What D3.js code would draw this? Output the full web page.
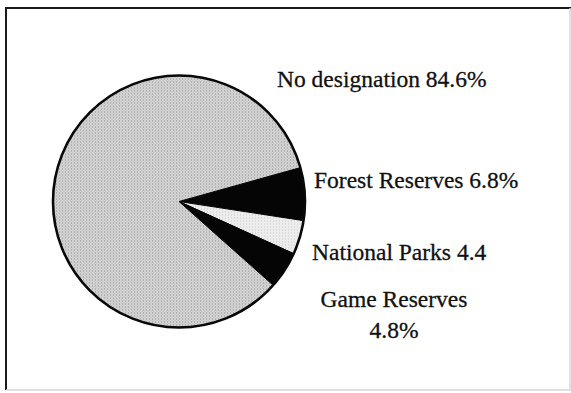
<!DOCTYPE html>
<html>
<head>
<meta charset="utf-8">
<script src="https://cdn.jsdelivr.net/npm/d3@7"></script>
<style>
  html, body { margin: 0; padding: 0; background: #fff; }
  svg { display: block; }
</style>
</head>
<body>
<svg id="chart" width="571" height="393"></svg>
<script>
// Land designation shares (%), in drawing order going clockwise from the right
const categories = ['Forest Reserves', 'National Parks', 'Game Reserves', 'No designation'];
const values = [6.8, 4.4, 4.8, 84.6];
// label text as printed (note: National Parks has no % sign in the original)
const labelLines = [
  ['Forest Reserves 6.8%'],
  ['National Parks 4.4'],
  ['Game Reserves', '4.8%'],
  ['No designation 84.6%'],
];
const fills = ['#050505', 'url(#light)', '#050505', 'url(#stipple)'];

const width = 571, height = 393;
const cx = 179, cy = 201.5, radius = 126;

const svg = d3.select('#chart');
const defs = svg.append('defs');

// scanned-looking dot screen for the big slice
const stipple = defs.append('pattern')
  .attr('id', 'stipple')
  .attr('patternUnits', 'userSpaceOnUse')
  .attr('width', 3).attr('height', 3);
stipple.append('rect').attr('width', 3).attr('height', 3).attr('fill', '#d6d6d6');
stipple.append('rect').attr('x', 0).attr('y', 0).attr('width', 1).attr('height', 1).attr('fill', '#8e8e8e');
stipple.append('rect').attr('x', 1.5).attr('y', 1.5).attr('width', 1).attr('height', 1).attr('fill', '#aaaaaa');

const light = defs.append('pattern')
  .attr('id', 'light')
  .attr('patternUnits', 'userSpaceOnUse')
  .attr('width', 3).attr('height', 3);
light.append('rect').attr('width', 3).attr('height', 3).attr('fill', '#ededed');
light.append('rect').attr('x', 1).attr('y', 1).attr('width', 1).attr('height', 1).attr('fill', '#c8c8c8');

// frame: dark top/left, faint bottom/right like the scan
svg.append('path')
  .attr('d', `M6,${height - 3} V8 H${width}`)
  .attr('fill', 'none').attr('stroke', '#1a1a1a').attr('stroke-width', 2);
svg.append('path')
  .attr('d', `M6,${height - 3} H${width - 1} V8`)
  .attr('fill', 'none').attr('stroke', '#d8d8d8').attr('stroke-width', 1.5);

// first slice starts ~15.6 degrees above 3 o'clock
const start = (90 - 15.6) * Math.PI / 180;
const pie = d3.pie().sort(null).startAngle(start).endAngle(start + 2 * Math.PI);
const arcs = pie(values);
const arc = d3.arc().innerRadius(0).outerRadius(radius);

const g = svg.append('g').attr('transform', `translate(${cx},${cy})`);

g.selectAll('path.slice')
  .data(arcs)
  .enter()
  .append('path')
  .attr('class', 'slice')
  .attr('d', arc)
  .attr('fill', (d, i) => fills[i])
  .attr('stroke', '#050505')
  .attr('stroke-width', 1)
  .attr('stroke-linejoin', 'round');

// outer rim
g.append('circle')
  .attr('r', radius)
  .attr('fill', 'none')
  .attr('stroke', '#080808')
  .attr('stroke-width', 2.6);

// labels sit to the right of the pie
const labelLayout = {
  'No designation': { x: cx + 98, y: 87, anchor: 'start' },
  'Forest Reserves': { x: cx + 135, y: 188, anchor: 'start' },
  'National Parks': { x: cx + 133, y: 260, anchor: 'start' },
  'Game Reserves': { x: cx + 215, y: 307, anchor: 'middle' },
};

categories.forEach((c, i) => {
  const pos = labelLayout[c];
  const t = svg.append('text')
    .attr('x', pos.x)
    .attr('y', pos.y)
    .attr('text-anchor', pos.anchor)
    .attr('font-family', '"Liberation Serif", "DejaVu Serif", serif')
    .attr('font-size', '23.5px')
    .attr('fill', '#111')
    .attr('stroke', '#111')
    .attr('stroke-width', 0.3);
  labelLines[i].forEach((line, j) => {
    t.append('tspan')
      .attr('x', pos.x)
      .attr('dy', j === 0 ? 0 : 31)
      .text(line);
  });
});
</script>
</body>
</html>
